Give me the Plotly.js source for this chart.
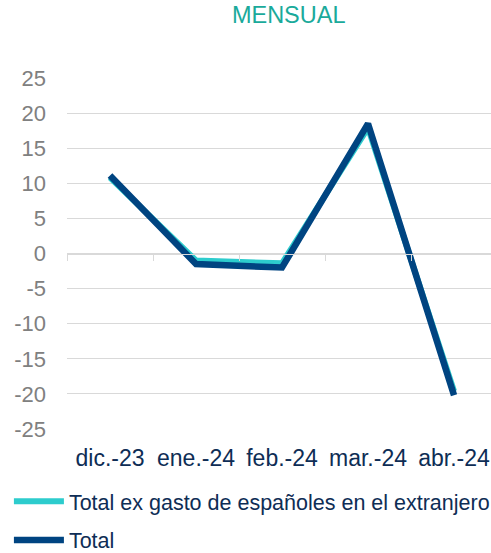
<!DOCTYPE html>
<html>
<head>
<meta charset="utf-8">
<script src="https://cdn.plot.ly/plotly-3.0.1.min.js"></script>
<style>
  html, body { margin: 0; padding: 0; background: #fff; }
  #chart { width: 491px; height: 553px; }
</style>
</head>
<body>
<div id="chart"></div>
<script>
// monthly values
var months = ["dic.-23", "ene.-24", "feb.-24", "mar.-24", "abr.-24"];
var totalEx = [10.8, -1.0, -1.4, 17.9, -19.6];
var total = [11.1, -1.5, -2.0, 18.5, -20.2];
var yTicks = [25, 20, 15, 10, 5, 0, -5, -10, -15, -20, -25];
// plain hyphens like the original, not the unicode minus
var yTickText = yTicks.map(v => String(v));

var traceEx = {
  x: months,
  y: totalEx,
  type: "scatter",
  mode: "lines",
  name: "Total ex gasto de españoles en el extranjero",
  legend: "legend",
  line: { color: "#2dcccd", width: 6 }
};

// on the overlaid axis so it is drawn above the teal line
var traceTotal = {
  x: months,
  y: total,
  xaxis: "x2",
  type: "scatter",
  mode: "lines",
  name: "Total",
  legend: "legend2",
  line: { color: "#004481", width: 6.5 }
};

var data = [traceEx, traceTotal];

var legendStyle = {
  orientation: "v",
  xanchor: "left",
  yanchor: "middle",
  font: { size: 21.5, color: "#0e2d55" },
  itemwidth: 50,
  bgcolor: "rgba(0,0,0,0)"
};

var layout = {
  width: 491,
  height: 553,
  margin: { l: 67, r: 0, t: 77.5, b: 123.5, autoexpand: false },
  paper_bgcolor: "#ffffff",
  plot_bgcolor: "#ffffff",
  font: { family: "Liberation Sans, Arial, sans-serif" },
  title: {
    text: "MENSUAL",
    font: { size: 23.5, color: "#1aaa9b" },
    x: 0.588, xref: "container", xanchor: "center",
    y: 0.973, yref: "container", yanchor: "middle"
  },
  xaxis: {
    type: "category",
    categoryarray: months,
    range: [-0.5, 4.43],
    showgrid: false,
    zeroline: false,
    showline: false,
    ticks: "",
    ticklabelstandoff: 13,
    tickfont: { size: 23, color: "#0e2d55" },
    fixedrange: true
  },
  // thin axis with tick marks along the zero line
  xaxis2: {
    type: "category",
    categoryarray: months,
    matches: "x",
    overlaying: "x",
    anchor: "free",
    position: 0.5,
    side: "bottom",
    showgrid: false,
    zeroline: false,
    showline: true,
    linecolor: "#d9d9d9",
    linewidth: 1,
    ticks: "outside",
    tickson: "boundaries",
    ticklen: 6,
    tickcolor: "#d9d9d9",
    tickwidth: 1,
    showticklabels: false
  },
  yaxis: {
    range: [-25, 25],
    tickmode: "array",
    tickvals: yTicks,
    ticktext: yTickText,
    showgrid: true,
    gridcolor: "#d9d9d9",
    gridwidth: 1,
    zeroline: false,
    showline: false,
    ticks: "",
    ticklabelstandoff: 20,
    tickfont: { size: 22, color: "#808080" },
    fixedrange: true
  },
  showlegend: true,
  legend: Object.assign({}, legendStyle, { x: -0.137, y: -0.206 }),
  legend2: Object.assign({}, legendStyle, { x: -0.137, y: -0.316 })
};

Plotly.newPlot("chart", data, layout, { displayModeBar: false, staticPlot: true });
</script>
</body>
</html>
